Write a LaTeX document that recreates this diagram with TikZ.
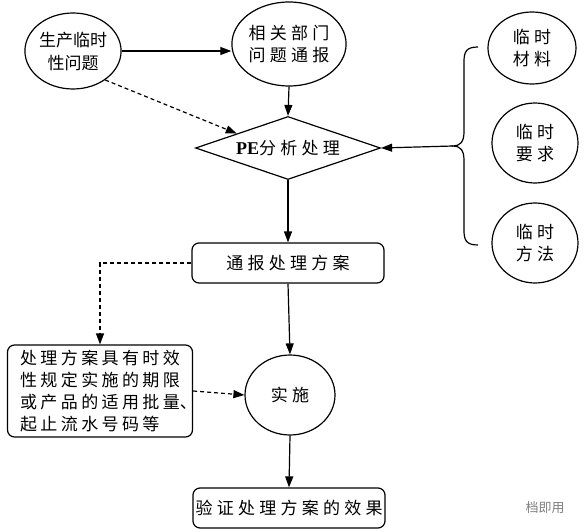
\documentclass[tikz,border=0pt]{standalone}
\usepackage{fontspec}
\setmainfont{Liberation Serif}
\newfontfamily\cjk{Noto Sans CJK SC}
\newfontfamily\cjkw[LetterSpace=25]{Noto Sans CJK SC}
\newfontfamily\cjkt[LetterSpace=20]{Noto Sans CJK SC}
\usetikzlibrary{arrows.meta,shapes.geometric,calc}
\begin{document}
\begin{tikzpicture}[x=1pt,y=-1pt,
  every node/.style={font=\cjkw\fontsize{17}{22}\selectfont, align=center},
  ell/.style={draw, ellipse, line width=1.2pt, inner sep=0pt},
  rbox/.style={draw, rounded corners=7pt, line width=1.2pt, inner sep=0pt},
  arr/.style={-{Triangle[length=11pt,width=8pt]}, line width=1.2pt},
  darr/.style={arr, dash pattern=on 4pt off 3pt}]
\useasboundingbox (0,0) rectangle (584,532);
% nodes
\node[ell, minimum width=88, minimum height=76, font=\cjk\fontsize{17}{23}\selectfont] (a) at (73,51) {生产临时\\性问题};
\node[ell, minimum width=114, minimum height=84] (b) at (289,44) {相关部门\\问题通报};
\node[draw, diamond, aspect=2.94, minimum width=185, minimum height=63, inner sep=0pt, line width=1.2pt] (d) at (288,148) {{\rmfamily\bfseries\fontsize{18}{18}\selectfont PE}分析处理};
\node[ell, minimum width=88, minimum height=72] (c1) at (532,48) {临时\\材料};
\node[ell, minimum width=86, minimum height=80] (c2) at (535,143) {临时\\要求};
\node[ell, minimum width=86, minimum height=80] (c3) at (535,243) {临时\\方法};
\node[rbox, minimum width=192, minimum height=40] (e) at (288,263) {通报处理方案};
\node[rbox, minimum width=185, minimum height=92, align=left, font=\cjkt\fontsize{17}{22}\selectfont] (f) at (100,391) {处理方案具有时效\\性规定实施的期限\\或产品的适用批量\rlap{、}\\起止流水号码等};
\node[ell, minimum width=90, minimum height=80] (g) at (290,395) {实施};
\node[rbox, minimum width=192, minimum height=40] (h) at (289,508) {验证处理方案的效果};
\node[font=\cjk\fontsize{13}{13}\selectfont, text=gray] (w) at (545,508) {档即用};
% brace
\coordinate (bt) at (453,146);
\draw[line width=1.2pt] (478,47) .. controls (466,47) and (464,52) .. (464,62) -- (464,132)
  .. controls (464,142) and (460,146) .. (bt)
  .. controls (460,146) and (464,150) .. (464,160) -- (464,230)
  .. controls (464,240) and (466,245) .. (478,245);
% connectors
\draw[arr] (a.east) -- (a.east -| b.west);
\draw[arr] (b.south) -- (d.north);
\draw[darr] (a.-42) -- ($(d.west)!0.45!(d.north)$);
\draw[arr] (bt) -- (d.east);
\draw[arr] (d.south) -- (e.north);
\draw[darr] (e.west) -| (f.north);
\draw[arr] (e.south) -- (g.north);
\draw[darr] (f.east) -- (g.west);
\draw[arr] (g.south) -- (h.north);
\end{tikzpicture}
\end{document}
